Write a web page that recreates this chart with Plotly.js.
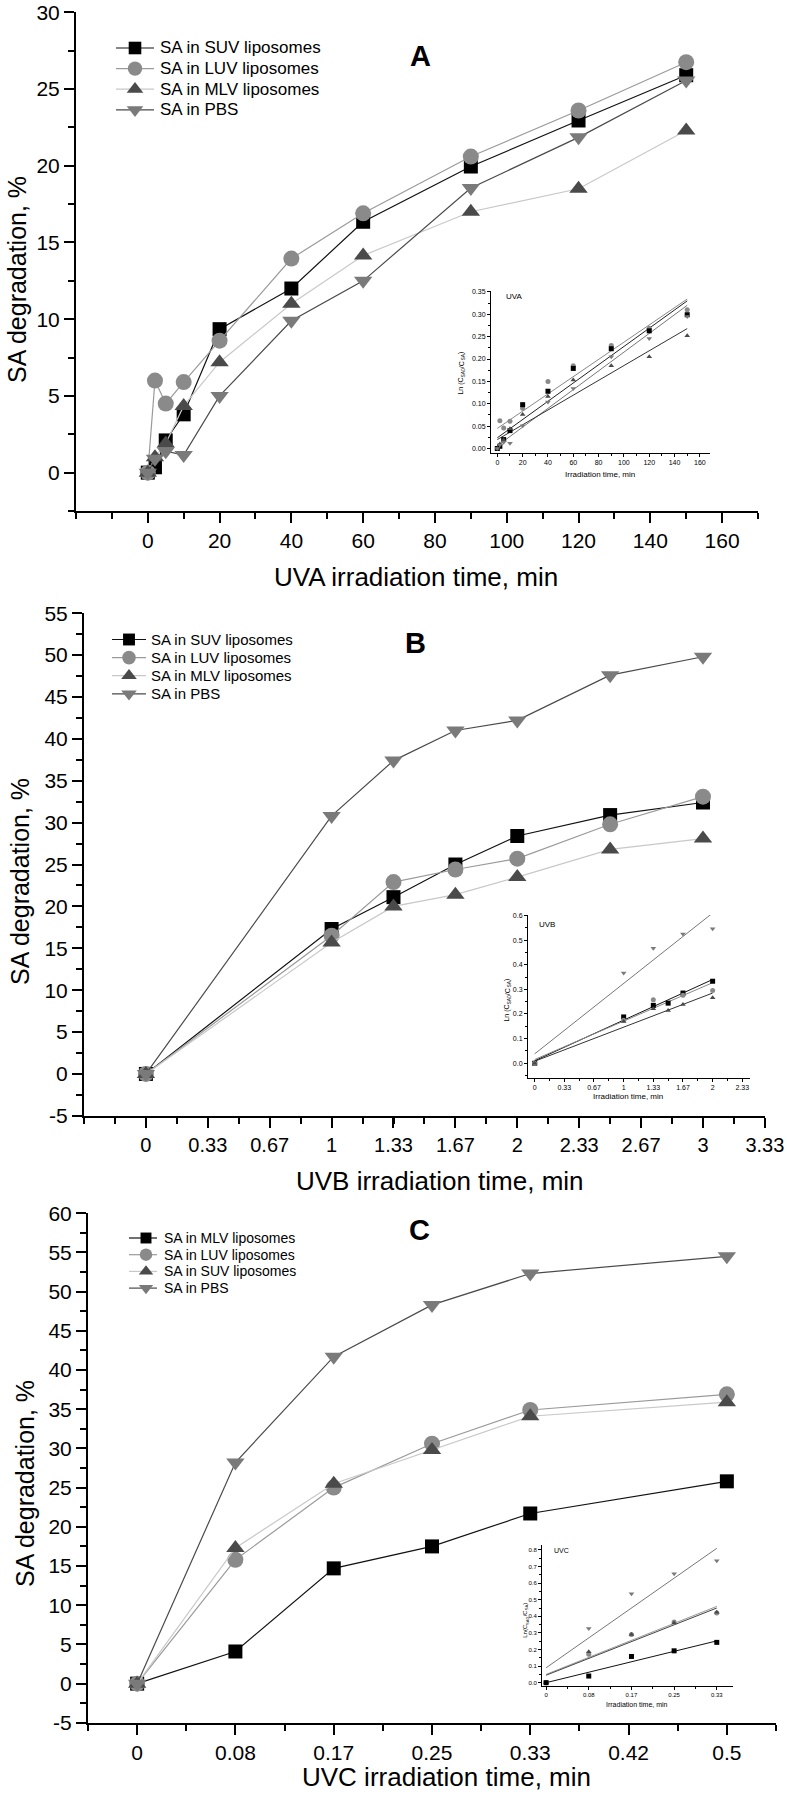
<!DOCTYPE html>
<html>
<head>
<meta charset="utf-8">
<script src="https://cdn.plot.ly/plotly-3.0.1.min.js"></script>
<style>html,body{margin:0;padding:0;background:#fff;}#chart{width:787px;height:1798px;}</style>
</head>
<body>
<div id="chart"></div>
<script>
// ---------------- DATA ----------------
// Panel A (UVA)
const timeA = [0, 2, 5, 10, 20, 40, 60, 90, 120, 150];
const A_SUV = [0, 0.35, 2.1, 3.8, 9.35, 12.0, 16.35, 19.95, 22.95, 25.9];
const A_LUV = [0, 6.0, 4.5, 5.9, 8.6, 13.95, 16.9, 20.6, 23.6, 26.75];
const A_MLV = [0, 1.0, 1.9, 4.35, 7.2, 11.0, 14.15, 17.0, 18.5, 22.3];
const A_PBS = [0, 0.9, 1.4, 1.15, 5.0, 9.9, 12.5, 18.55, 21.85, 25.55];
const ticksA = [0, 20, 40, 60, 80, 100, 120, 140, 160];
const labelsA = ['0', '20', '40', '60', '80', '100', '120', '140', '160'];
const ticksAY = [0, 5, 10, 15, 20, 25, 30];
const labelsAY = ['0', '5', '10', '15', '20', '25', '30'];

// Panel B (UVB)
const timeB = [0, 1, 1.3333, 1.6667, 2, 2.5, 3];
const B_SUV = [0, 17.3, 21.1, 25.0, 28.4, 30.9, 32.4];
const B_LUV = [0, 16.5, 22.9, 24.4, 25.7, 29.8, 33.1];
const B_MLV = [0, 15.7, 20.0, 21.4, 23.5, 26.8, 28.1];
const B_PBS = [0, 30.8, 37.4, 41.0, 42.2, 47.6, 49.8];
const ticksB = [0, 0.3333, 0.6667, 1, 1.3333, 1.6667, 2, 2.3333, 2.6667, 3, 3.3333];
const labelsB = ['0', '0.33', '0.67', '1', '1.33', '1.67', '2', '2.33', '2.67', '3', '3.33'];
const ticksBY = [-5, 0, 5, 10, 15, 20, 25, 30, 35, 40, 45, 50, 55];
const labelsBY = ['-5', '0', '5', '10', '15', '20', '25', '30', '35', '40', '45', '50', '55'];

// Panel C (UVC)
const timeC = [0, 0.0833, 0.1667, 0.25, 0.3333, 0.5];
const C_MLV = [0, 4.1, 14.7, 17.5, 21.7, 25.8];
const C_LUV = [0, 15.8, 25.0, 30.6, 34.9, 36.9];
const C_SUV = [0, 17.3, 25.5, 29.8, 34.1, 35.9];
const C_PBS = [0, 28.2, 41.7, 48.3, 52.3, 54.5];
const ticksC = [0, 0.0833, 0.1667, 0.25, 0.3333, 0.4167, 0.5];
const labelsC = ['0', '0.08', '0.17', '0.25', '0.33', '0.42', '0.5'];
const ticksCY = [-5, 0, 5, 10, 15, 20, 25, 30, 35, 40, 45, 50, 55, 60];
const labelsCY = ['-5', '0', '5', '10', '15', '20', '25', '30', '35', '40', '45', '50', '55', '60'];

// Inset A: Ln(C0/C) vs time
const iA_SUV = [0, 0.005, 0.02, 0.04, 0.098, 0.128, 0.179, 0.223, 0.263, 0.299];
const iA_LUV = [0, 0.062, 0.046, 0.061, 0.09, 0.15, 0.185, 0.23, 0.269, 0.31];
const iA_MLV = [0, 0.01, 0.019, 0.044, 0.076, 0.116, 0.153, 0.185, 0.205, 0.252];
const iA_PBS = [0, 0.008, 0.014, 0.012, 0.051, 0.104, 0.134, 0.205, 0.246, 0.295];
const fitA_time = [0, 150];
const fA_SUV = [0.024, 0.33];
const fA_LUV = [0.045, 0.334];
const fA_MLV = [0.02, 0.268];
const fA_PBS = [0.006, 0.32];
const ticksIA = [0, 20, 40, 60, 80, 100, 120, 140, 160];
const labelsIA = ['0', '20', '40', '60', '80', '100', '120', '140', '160'];

// Inset B
const iB_time5 = [0, 1, 1.3333, 1.5, 1.6667, 2];
const iB_time4 = [0, 1, 1.3333, 1.6667, 2];
const iB_SUV = [0, 0.188, 0.235, 0.244, 0.285, 0.333];
const iB_MLV = [0, 0.169, 0.221, 0.214, 0.239, 0.266];
const iB_LUV = [0, 0.175, 0.258, 0.276, 0.295];
const iB_PBS = [0, 0.366, 0.467, 0.525, 0.546];
const fitB_time = [0, 2];
const fB_SUV = [0.01, 0.34];
const fB_LUV = [0.015, 0.327];
const fB_MLV = [0.008, 0.285];
const fB_PBS = [0.038, 0.61];
const ticksIB = [0, 0.3333, 0.6667, 1, 1.3333, 1.6667, 2, 2.3333];
const labelsIB = ['0', '0.33', '0.67', '1', '1.33', '1.67', '2', '2.33'];

// Inset C
const iC_time = [0, 0.0833, 0.1667, 0.25, 0.3333];
const iC_MLV = [0, 0.04, 0.158, 0.192, 0.243];
const iC_LUV = [0, 0.172, 0.29, 0.366, 0.42];
const iC_SUV = [0, 0.186, 0.29, 0.36, 0.425];
const iC_PBS = [0, 0.326, 0.536, 0.656, 0.735];
const fitC_time = [0, 0.3333];
const fC_MLV = [0.0, 0.252];
const fC_LUV = [0.05, 0.46];
const fC_SUV = [0.045, 0.45];
const fC_PBS = [0.09, 0.81];
const ticksIC = [0, 0.0833, 0.1667, 0.25, 0.3333];
const labelsIC = ['0', '0.08', '0.17', '0.25', '0.33'];

// ---------------- STYLE ----------------
const W = 787, H = 1798;
const px = v => v / W;
const py = v => 1 - v / H;
const FONT = 'Liberation Sans, Arial, sans-serif';

// series styles
const ST = {
  sq:   {sym: 'square',        m: '#000000', l: '#111111', size: 14},
  circ: {sym: 'circle',        m: '#8a8a8a', l: '#9a9a9a', size: 16},
  tup:  {sym: 'triangle-up',   m: '#4a4a4a', l: '#c8c8c8', size: 16},
  tdn:  {sym: 'triangle-down', m: '#7a7a7a', l: '#4a4a4a', size: 16}
};

function mainTrace(x, y, st, xa, ya) {
  return {x: x, y: y, type: 'scatter', mode: 'lines+markers', showlegend: false,
    xaxis: xa, yaxis: ya, line: {color: st.l, width: 1.2},
    marker: {symbol: st.sym, color: st.m, size: st.size, line: {width: 0}}};
}
function insetPts(x, y, st, xa, ya) {
  return {x: x, y: y, type: 'scatter', mode: 'markers', showlegend: false,
    xaxis: xa, yaxis: ya, marker: {symbol: st.sym, color: st.m, size: 5, line: {width: 0}}};
}
function insetFit(x, y, col, xa, ya) {
  return {x: x, y: y, type: 'scatter', mode: 'lines', showlegend: false,
    xaxis: xa, yaxis: ya, line: {color: col, width: 1}};
}

const data = [
  mainTrace(timeA, A_SUV, ST.sq, 'x', 'y'),
  mainTrace(timeA, A_LUV, ST.circ, 'x', 'y'),
  mainTrace(timeA, A_MLV, ST.tup, 'x', 'y'),
  mainTrace(timeA, A_PBS, ST.tdn, 'x', 'y'),
  mainTrace(timeB, B_SUV, ST.sq, 'x2', 'y2'),
  mainTrace(timeB, B_LUV, ST.circ, 'x2', 'y2'),
  mainTrace(timeB, B_MLV, ST.tup, 'x2', 'y2'),
  mainTrace(timeB, B_PBS, ST.tdn, 'x2', 'y2'),
  mainTrace(timeC, C_MLV, ST.sq, 'x3', 'y3'),
  mainTrace(timeC, C_LUV, ST.circ, 'x3', 'y3'),
  mainTrace(timeC, C_SUV, ST.tup, 'x3', 'y3'),
  mainTrace(timeC, C_PBS, ST.tdn, 'x3', 'y3'),
  insetFit(fitA_time, fA_LUV, '#888', 'x4', 'y4'),
  insetFit(fitA_time, fA_SUV, '#222', 'x4', 'y4'),
  insetFit(fitA_time, fA_PBS, '#777', 'x4', 'y4'),
  insetFit(fitA_time, fA_MLV, '#333', 'x4', 'y4'),
  insetPts(timeA, iA_LUV, ST.circ, 'x4', 'y4'),
  insetPts(timeA, iA_SUV, ST.sq, 'x4', 'y4'),
  insetPts(timeA, iA_MLV, ST.tup, 'x4', 'y4'),
  insetPts(timeA, iA_PBS, ST.tdn, 'x4', 'y4'),
  insetFit(fitB_time, fB_PBS, '#777', 'x5', 'y5'),
  insetFit(fitB_time, fB_SUV, '#111', 'x5', 'y5'),
  insetFit(fitB_time, fB_LUV, '#888', 'x5', 'y5'),
  insetFit(fitB_time, fB_MLV, '#333', 'x5', 'y5'),
  insetPts(iB_time4, iB_PBS, ST.tdn, 'x5', 'y5'),
  insetPts(iB_time5, iB_SUV, ST.sq, 'x5', 'y5'),
  insetPts(iB_time4, iB_LUV, ST.circ, 'x5', 'y5'),
  insetPts(iB_time5, iB_MLV, ST.tup, 'x5', 'y5'),
  insetFit(fitC_time, fC_PBS, '#777', 'x6', 'y6'),
  insetFit(fitC_time, fC_LUV, '#999', 'x6', 'y6'),
  insetFit(fitC_time, fC_SUV, '#444', 'x6', 'y6'),
  insetFit(fitC_time, fC_MLV, '#111', 'x6', 'y6'),
  insetPts(iC_time, iC_PBS, ST.tdn, 'x6', 'y6'),
  insetPts(iC_time, iC_LUV, ST.circ, 'x6', 'y6'),
  insetPts(iC_time, iC_SUV, ST.tup, 'x6', 'y6'),
  insetPts(iC_time, iC_MLV, ST.sq, 'x6', 'y6')
];

// ---------------- LEGENDS (keys drawn on a pixel overlay axis) ----------------
const ann = [];
function addText(text, x, y, size, opts) {
  ann.push(Object.assign({text: text, x: px(x), y: py(y), xref: 'paper', yref: 'paper',
    showarrow: false, xanchor: 'center', yanchor: 'middle',
    font: {family: FONT, size: size, color: '#000'}}, opts || {}));
}
const legends = [
  {x0: 116, x1: 154, xm: 135, xt: 158, y0: 48, dy: 20.6, font: 17, msc: 0.9,
   items: [[ST.sq, 'SA in SUV liposomes'], [ST.circ, 'SA in LUV liposomes'], [ST.tup, 'SA in MLV liposomes'], [ST.tdn, 'SA in PBS']]},
  {x0: 112, x1: 146, xm: 129, xt: 149, y0: 639.5, dy: 18.1, font: 15, msc: 0.85,
   items: [[ST.sq, 'SA in SUV liposomes'], [ST.circ, 'SA in LUV liposomes'], [ST.tup, 'SA in MLV liposomes'], [ST.tdn, 'SA in PBS']]},
  {x0: 129, x1: 157, xm: 146, xt: 162, y0: 1238, dy: 16.7, font: 14, msc: 0.78,
   items: [[ST.sq, 'SA in MLV liposomes'], [ST.circ, 'SA in LUV liposomes'], [ST.tup, 'SA in SUV liposomes'], [ST.tdn, 'SA in PBS']]}
];
legends.forEach(lg => {
  lg.items.forEach((it, i) => {
    const st = it[0], yy = lg.y0 + i * lg.dy;
    data.push({x: [lg.x0, lg.x1], y: [yy, yy], type: 'scatter', mode: 'lines', showlegend: false,
      xaxis: 'x7', yaxis: 'y7', line: {color: st.l, width: 1.2}});
    data.push({x: [lg.xm], y: [yy], type: 'scatter', mode: 'markers', showlegend: false,
      xaxis: 'x7', yaxis: 'y7', marker: {symbol: st.sym, color: st.m, size: st.size * lg.msc, line: {width: 0}}});
    addText(it[1], lg.xt, yy, lg.font, {xanchor: 'left'});
  });
});

function mainX(dom, range, tv, tt, minorDtick, minorTick0, anchor, fs) {
  return {domain: dom, range: range, anchor: anchor, tickmode: 'array', tickvals: tv, ticktext: tt,
    showline: true, linecolor: '#000', linewidth: 2, ticks: 'outside', ticklen: 10, tickwidth: 2,
    tickcolor: '#000', showgrid: false, zeroline: false, ticklabeloverflow: 'allow',
    tickfont: {family: FONT, size: fs || 21, color: '#000'},
    minor: {ticks: 'outside', ticklen: 6, tickwidth: 2, tickcolor: '#000', dtick: minorDtick, tick0: minorTick0, showgrid: false}};
}
function mainY(dom, range, tv, tt, anchor) {
  return {domain: dom, range: range, anchor: anchor, tickmode: 'array', tickvals: tv, ticktext: tt,
    showline: true, linecolor: '#000', linewidth: 2, ticks: 'outside', ticklen: 10, tickwidth: 2,
    tickcolor: '#000', showgrid: false, zeroline: false, ticklabeloverflow: 'allow',
    tickfont: {family: FONT, size: 21, color: '#000'},
    minor: {ticks: 'outside', ticklen: 6, tickwidth: 2, tickcolor: '#000', dtick: 2.5, tick0: 0, showgrid: false}};
}
function insetX(dom, range, tv, tt, minorDtick, anchor, fs) {
  return {domain: dom, range: range, anchor: anchor, tickmode: 'array', tickvals: tv, ticktext: tt,
    showline: true, linecolor: '#000', linewidth: 1, ticks: 'outside', ticklen: 3, tickwidth: 1,
    tickcolor: '#000', showgrid: false, zeroline: false,
    tickfont: {family: FONT, size: fs, color: '#000'},
    minor: {ticks: 'outside', ticklen: 2, tickwidth: 1, tickcolor: '#000', dtick: minorDtick, tick0: 0, showgrid: false}};
}
function insetY(dom, range, dtick, fmt, anchor, fs) {
  return {domain: dom, range: range, anchor: anchor, tickmode: 'linear', tick0: 0, dtick: dtick, tickformat: fmt,
    showline: true, linecolor: '#000', linewidth: 1, ticks: 'outside', ticklen: 3, tickwidth: 1,
    tickcolor: '#000', showgrid: false, zeroline: false,
    tickfont: {family: FONT, size: fs, color: '#000'},
    minor: {ticks: 'outside', ticklen: 2, tickwidth: 1, tickcolor: '#000', dtick: dtick / 2, tick0: 0, showgrid: false}};
}

// panel letters
addText('<b>A</b>', 421, 56, 29);
addText('<b>B</b>', 415, 643, 29);
addText('<b>C</b>', 419, 1230, 29);
// axis titles
addText('UVA irradiation time, min', 416, 577, 26);
addText('UVB irradiation time, min', 440, 1181, 26);
addText('UVC irradiation time, min', 446, 1777, 26);
addText('SA degradation, %', 17, 280, 25, {textangle: -90});
addText('SA degradation, %', 20, 882, 25, {textangle: -90});
addText('SA degradation, %', 25, 1484, 25, {textangle: -90});
// inset texts
addText('UVA', 504, 297, 8, {xanchor: 'left'});
addText('Irradiation time, min', 600, 474, 8);
addText('UVB', 537, 924, 8, {xanchor: 'left'});
addText('Irradiation time, min', 628, 1096, 8);
addText('UVC', 552, 1550, 7, {xanchor: 'left'});
addText('Irradiation time, min', 637, 1704, 7);

// rotated "Ln (C_SA0/C_SA)" labels assembled from pieces (subscripts smaller and shifted)
const cvs = document.createElement('canvas').getContext('2d');
function measure(t, s) { cvs.font = s + 'px "Liberation Sans", Arial, sans-serif'; return cvs.measureText(t).width; }
function lnLabel(cx, cy, s, spaced) {
  const ss = Math.round(s * 0.7 * 10) / 10;
  const pieces = [[spaced ? 'Ln (C' : 'Ln(C', s, 0], ['SA0', ss, 1], ['/C', s, 0], ['SA', ss, 1], [')', s, 0]];
  const widths = pieces.map(p => measure(p[0], p[1]));
  const total = widths.reduce((a, b) => a + b, 0);
  let yb = cy + total / 2;
  pieces.forEach((p, i) => {
    const w = widths[i];
    addText(p[0], cx + p[2] * s * 0.3, yb - w / 2, p[1], {textangle: -90});
    yb -= w;
  });
}
lnLabel(461, 373, 7, true);
lnLabel(507, 1000, 7, true);
lnLabel(525, 1620, 6, false);

const layout = {
  width: W, height: H, margin: {l: 0, r: 0, t: 0, b: 0},
  paper_bgcolor: '#fff', plot_bgcolor: 'rgba(0,0,0,0)',
  showlegend: false,
  xaxis: mainX([px(76), px(758)], [-20, 170], ticksA, labelsA, 10, 0, 'y'),
  yaxis: mainY([py(511), py(12)], [-2.5, 30.02], ticksAY, labelsAY, 'x'),
  xaxis2: mainX([px(84), px(765)], [-0.3334, 3.334], ticksB, labelsB, 0.16667, 0.16667, 'y2', 20),
  yaxis2: mainY([py(1116), py(613)], [-5.02, 55.02], ticksBY, labelsBY, 'x2'),
  xaxis3: mainX([px(88), px(776)], [-0.04167, 0.54167], ticksC, labelsC, 0.083333, 0.041667, 'y3'),
  yaxis3: mainY([py(1723), py(1213)], [-5.02, 60.02], ticksCY, labelsCY, 'x3'),
  xaxis4: insetX([px(491), px(710)], [-5, 168], ticksIA, labelsIA, 10, 'y4', 7),
  yaxis4: insetY([py(453), py(291)], [-0.01, 0.352], 0.05, '.2f', 'x4', 7),
  xaxis5: insetX([px(528), px(750)], [-0.075, 2.42], ticksIB, labelsIB, 0.16667, 'y5', 7),
  yaxis5: insetY([py(1078), py(915)], [-0.06, 0.602], 0.1, '.1f', 'x5', 7),
  xaxis6: insetX([px(542), px(733)], [-0.008, 0.365], ticksIC, labelsIC, 0.041667, 'y6', 6),
  yaxis6: insetY([py(1686), py(1545)], [-0.02, 0.83], 0.1, '.1f', 'x6', 6),
  xaxis7: {domain: [0, 1], range: [0, W], anchor: 'y7', visible: false, fixedrange: true},
  yaxis7: {domain: [0, 1], range: [H, 0], anchor: 'x7', visible: false, fixedrange: true},
  annotations: ann
};

Plotly.newPlot('chart', data, layout, {displayModeBar: false, staticPlot: true});
</script>
</body>
</html>
